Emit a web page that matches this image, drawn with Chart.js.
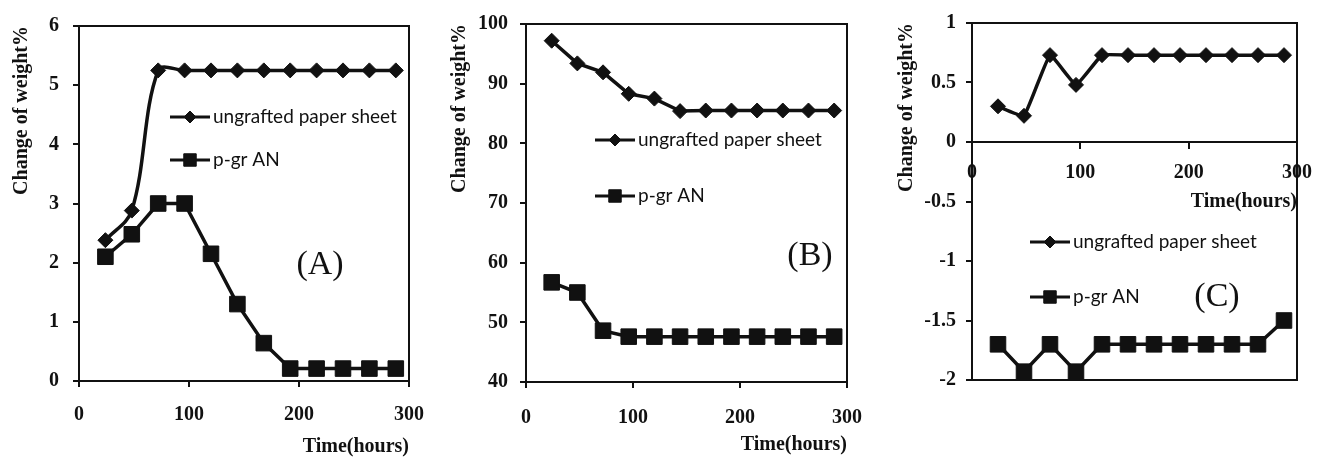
<!DOCTYPE html>
<html>
<head>
<meta charset="utf-8">
<script src="https://cdn.jsdelivr.net/npm/chart.js@4.4.1/dist/chart.umd.min.js"></script>
<style>
  html, body { margin: 0; padding: 0; background: #fff; }
  #wrap { position: relative; width: 1325px; height: 459px; overflow: hidden; }
  .panel { position: absolute; top: 0; height: 459px; }
</style>
</head>
<body>
<div id="wrap">
  <div class="panel" style="left:0;width:440px"><canvas id="chartA"></canvas></div>
  <div class="panel" style="left:440px;width:440px"><canvas id="chartB"></canvas></div>
  <div class="panel" style="left:880px;width:445px"><canvas id="chartC"></canvas></div>
</div>
<script>
// sampling times (hours)
const hours = [24, 48, 72, 96, 120, 144, 168, 192, 216, 240, 264, 288];
const seriesNames = ["ungrafted paper sheet", "p-gr AN"];

// (A)
const ungraftedA = [2.38, 2.88, 5.25, 5.25, 5.25, 5.25, 5.25, 5.25, 5.25, 5.25, 5.25, 5.25];
const pgrANA = [2.1, 2.48, 3.0, 3.0, 2.15, 1.3, 0.64, 0.21, 0.21, 0.21, 0.21, 0.21];

// (B)
const ungraftedB = [97.2, 93.4, 91.9, 88.3, 87.5, 85.4, 85.5, 85.5, 85.5, 85.5, 85.5, 85.5];
const pgrANB = [56.7, 55.0, 48.6, 47.6, 47.6, 47.6, 47.6, 47.6, 47.6, 47.6, 47.6, 47.6];

// (C)
const ungraftedC = [0.3, 0.22, 0.73, 0.48, 0.73, 0.73, 0.73, 0.73, 0.73, 0.73, 0.73, 0.73];
const pgrANC = [-1.7, -1.93, -1.7, -1.93, -1.7, -1.7, -1.7, -1.7, -1.7, -1.7, -1.7, -1.5];

const xTicks = { min: 0, max: 300, step: 100 };
const yTicksA = { min: 0, max: 6, step: 1 };
const yTicksB = { min: 40, max: 100, step: 10 };
const yTicksC = { min: -2, max: 1, step: 0.5 };

const INK = "#111";
const tickFont = { family: "'Liberation Serif', 'Times New Roman', serif", size: 20, weight: "bold" };
const titleFont = { family: "'Liberation Serif', 'Times New Roman', serif", size: 20, weight: "bold" };

function toPoints(values) {
  return hours.map((h, i) => ({ x: h, y: values[i] }));
}

// frame, legend and panel tag
const panelDecor = {
  id: "panelDecor",
  afterDraw(chart, args, opts) {
    const ctx = chart.ctx;
    const area = chart.chartArea;
    ctx.save();
    ctx.strokeStyle = INK;
    ctx.lineWidth = 2;
    ctx.strokeRect(area.left, area.top, area.right - area.left, area.bottom - area.top);

    chart.data.datasets.forEach((ds, i) => {
      const x0 = opts.legendX;
      const y = opts.legendY[i];
      ctx.strokeStyle = INK;
      ctx.fillStyle = INK;
      ctx.lineWidth = 3;
      ctx.beginPath();
      ctx.moveTo(x0, y);
      ctx.lineTo(x0 + 40, y);
      ctx.stroke();
      ctx.lineWidth = 1;
      Chart.helpers.drawPoint(ctx, { pointStyle: ds.pointStyle, radius: ds.pointRadius * 0.8, borderWidth: 1, rotation: 0 }, x0 + 20, y);
      ctx.font = "19px Lato, sans-serif";
      ctx.textBaseline = "middle";
      ctx.textAlign = "left";
      ctx.fillText(ds.label, x0 + 43, y);
    });

    ctx.font = "34px 'Liberation Serif', serif";
    ctx.textAlign = "center";
    ctx.textBaseline = "middle";
    ctx.fillStyle = INK;
    ctx.fillText(opts.tag, opts.tagX, opts.tagY);
    ctx.restore();
  }
};

function makePanel(id, p) {
  const ctx = document.getElementById(id).getContext("2d");
  const config = {
    type: "line",
    data: {
      datasets: [
        {
          label: seriesNames[0],
          data: toPoints(p.ungrafted),
          borderColor: INK,
          backgroundColor: INK,
          borderWidth: 3.5,
          pointStyle: "rectRot",
          pointRadius: 7.5,
          pointBorderWidth: 1,
          tension: p.smooth,
        },
        {
          label: seriesNames[1],
          data: toPoints(p.pgrAN),
          borderColor: INK,
          backgroundColor: INK,
          borderWidth: 3.5,
          pointStyle: "rect",
          pointRadius: 11,
          pointBorderWidth: 1,
          tension: 0,
        },
      ],
    },
    options: {
      responsive: true,
      maintainAspectRatio: false,
      animation: false,
      layout: { padding: p.padding },
      plugins: {
        legend: { display: false },
        tooltip: { enabled: false },
        panelDecor: p.decor,
      },
      scales: {
        x: {
          type: "linear",
          position: p.xPosition,
          min: xTicks.min,
          max: xTicks.max,
          afterFit: (s) => { s.height = p.xHeight; },
          ticks: { stepSize: xTicks.step, color: INK, font: tickFont, padding: p.xTickPad, maxRotation: 0 },
          grid: { drawOnChartArea: false, tickLength: 6, color: INK, lineWidth: 2 },
          border: { color: INK, width: 2 },
          title: { display: true, text: "Time(hours)", align: "end", color: INK, font: titleFont, padding: { top: 0, bottom: p.xTitlePad } },
        },
        y: {
          min: p.yTicks.min,
          max: p.yTicks.max,
          afterFit: (s) => { s.width = p.yWidth; },
          ticks: {
            stepSize: p.yTicks.step, color: INK, font: tickFont, padding: p.yTickPad,
            callback: (v) => String(Math.round(v * 10) / 10),
          },
          grid: { drawOnChartArea: false, tickLength: 6, color: INK, lineWidth: 2 },
          border: { color: INK, width: 2 },
          title: { display: true, text: "Change of weight%", align: "end", color: INK, font: titleFont, padding: { top: p.yTitlePad, bottom: 0 } },
        },
      },
    },
    plugins: [panelDecor],
  };
  return new Chart(ctx, config);
}

makePanel("chartA", {
  ungrafted: ungraftedA, pgrAN: pgrANA, yTicks: yTicksA, smooth: 0.35,
  padding: { top: 22, right: 26, bottom: 0, left: 0 },
  xPosition: "bottom", xHeight: 78, xTickPad: 16, xTitlePad: 0,
  yWidth: 79, yTickPad: 14, yTitlePad: 10,
  decor: { legendX: 170, legendY: [117, 160], tag: "(A)", tagX: 320, tagY: 265 },
});

makePanel("chartB", {
  ungrafted: ungraftedB, pgrAN: pgrANB, yTicks: yTicksB, smooth: 0,
  padding: { top: 22, right: 17, bottom: 0, left: 0 },
  xPosition: "bottom", xHeight: 77, xTickPad: 18, xTitlePad: 2,
  yWidth: 86, yTickPad: 12, yTitlePad: 8,
  decor: { legendX: 155, legendY: [140, 196], tag: "(B)", tagX: 370, tagY: 256 },
});

makePanel("chartC", {
  ungrafted: ungraftedC, pgrAN: pgrANC, yTicks: yTicksC, smooth: 0.1,
  padding: { top: 23, right: 15, bottom: 79, left: 0 },
  xPosition: { y: 0 }, xHeight: 80, xTickPad: 13, xTitlePad: 8,
  yWidth: 92, yTickPad: 10, yTitlePad: 15,
  decor: { legendX: 150, legendY: [242, 297], tag: "(C)", tagX: 337, tagY: 297 },
});
</script>
</body>
</html>
